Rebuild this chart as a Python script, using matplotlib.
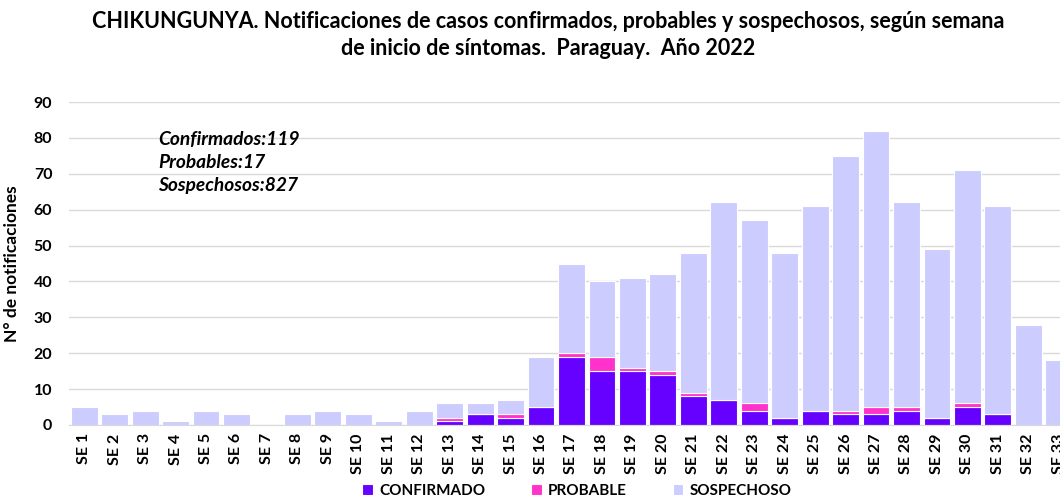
import matplotlib
matplotlib.use("Agg")
import matplotlib.pyplot as plt
import numpy as np

weeks = [f"SE {i}" for i in range(1, 34)]
totals = [5, 3, 4, 1, 4, 3, 0, 3, 4, 3, 1, 4, 6, 6, 7, 19, 45, 40, 41, 42,
          48, 62, 57, 48, 61, 75, 82, 62, 49, 71, 61, 28, 18]
confirmados = [0, 0, 0, 0, 0, 0, 0, 0, 0, 0, 0, 0, 1, 3, 2, 5, 19, 15, 15, 14,
               8, 7, 4, 2, 4, 3, 3, 4, 2, 5, 3, 0, 0]
probables = [0, 0, 0, 0, 0, 0, 0, 0, 0, 0, 0, 0, 1, 0, 1, 0, 1, 4, 1, 1,
             1, 0, 2, 0, 0, 1, 2, 1, 0, 1, 0, 0, 0]
sospechosos = [t - c - p for t, c, p in zip(totals, confirmados, probables)]

c_conf = "#6600FF"
c_prob = "#FF33CC"
c_sosp = "#CCCCFF"

plt.rcParams['font.family'] = ['Lato', 'DejaVu Sans']

fig = plt.figure(figsize=(10.6, 4.97), dpi=100)
ax = fig.add_axes([69/1060, 1-425/497, 1005/1060, (425-102)/497])

x = np.arange(len(weeks))
w = 0.88
conf = np.array(confirmados)
prob = np.array(probables)
sosp = np.array(sospechosos)
ax.bar(x, conf, w, color=c_conf, edgecolor='white', linewidth=0.8, label='CONFIRMADO', zorder=3)
ax.bar(x, prob, w, bottom=conf, color=c_prob, edgecolor='white', linewidth=0.8, label='PROBABLE', zorder=3)
ax.bar(x, sosp, w, bottom=conf+prob, color=c_sosp, edgecolor='white', linewidth=0.8, label='SOSPECHOSO', zorder=3)

ax.set_xlim(-0.5, len(weeks) - 0.5)
ax.set_ylim(0, 90)
ax.set_yticks(range(0, 91, 10))
ax.set_xticks(x)
ax.set_xticklabels(weeks, rotation=90, fontsize=11.5, fontweight='bold')
for lab in ax.get_yticklabels():
    lab.set_fontsize(11.5)
    lab.set_fontweight('bold')
ax.tick_params(axis='both', length=0, pad=6)
ax.tick_params(axis='y', pad=12)
ax.grid(axis='y', color='#d9d9d9', linewidth=1, zorder=0)
for s in ['top', 'right', 'left']:
    ax.spines[s].set_visible(False)
ax.spines['bottom'].set_color('#d9d9d9')
ax.spines['bottom'].set_zorder(4)

ax.set_ylabel("N° de notificaciones", fontsize=12.5, fontweight='bold', labelpad=10)

fig.text(0.517, 1-11/497, "CHIKUNGUNYA. Notificaciones de casos confirmados, probables y sospechosos, según semana\nde inicio de síntomas.  Paraguay.  Año 2022",
         ha='center', va='top', fontsize=15.5, fontweight='bold', linespacing=1.35)

ax.text(158/1060, 1-131/497, "Confirmados:119\nProbables:17\nSospechosos:827", transform=fig.transFigure,
        ha='left', va='top', fontsize=13.8, fontweight='bold', fontstyle='italic', linespacing=1.42)
leg = fig.legend(loc='center', bbox_to_anchor=(577/1060, 1-491/497), ncol=3, frameon=False,
                 prop={'weight': 'bold', 'size': 11}, handlelength=0.7, handleheight=0.7,
                 columnspacing=3.0, handletextpad=0.4)

fig.savefig("out.png", dpi=100)
